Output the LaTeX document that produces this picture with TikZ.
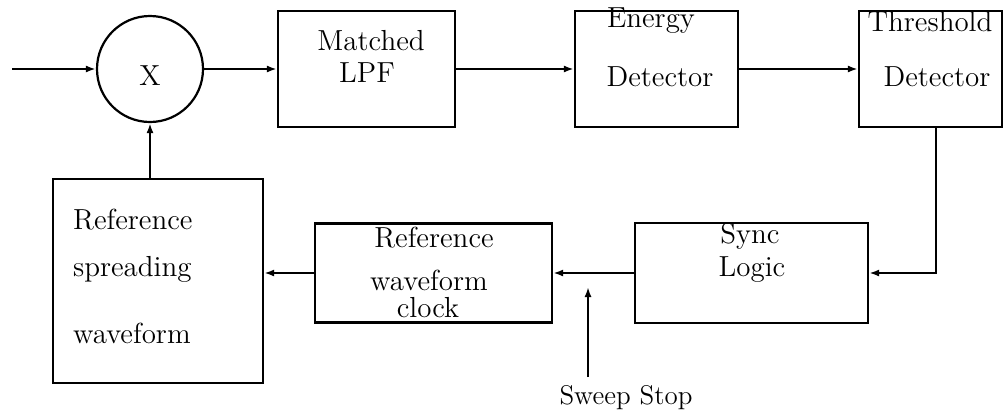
\documentclass[tikz,border=0pt]{standalone}
\usetikzlibrary{arrows.meta,calc}
\begin{document}
\begin{tikzpicture}[x=0.5pt,y=-0.5pt,
  line width=1.1pt,
  blk/.style={draw,rectangle,inner sep=0pt},
  lbl/.style={inner sep=0pt,font=\fontsize{14.5}{16}\selectfont},
  arr/.style={-{Latex[length=5pt,width=3.5pt]}}]
\useasboundingbox (0,0) rectangle (1005,413);
% blocks
\node[draw,circle,minimum size=106pt/2,inner sep=0pt] (mul) at (150,69) {};
\node[lbl] (xl) at (150,76) {X};
\node[blk,minimum width=177pt/2,minimum height=116pt/2] (lpf) at (366.5,69) {};
\node[blk,minimum width=163pt/2,minimum height=116pt/2] (en) at (656.5,69) {};
\node[blk,minimum width=143pt/2,minimum height=116pt/2] (th) at (930.5,69) {};
\node[blk,minimum width=233pt/2,minimum height=100pt/2] (sync) at (751.5,273) {};
\node[blk,minimum width=237pt/2,minimum height=99pt/2] (clk) at (433.5,273) {};
\node[blk,minimum width=210pt/2,minimum height=204pt/2] (spr) at (158,281) {};
% labels
\node[lbl] (l1) at (371,41) {Matched};
\node[lbl] (l2) at (367,73) {LPF};
\node[lbl] (l3) at (651,21) {Energy};
\node[lbl] (l4) at (660,77) {Detector};
\node[lbl] (l5) at (930,22) {Threshold};
\node[lbl] (l6) at (937,77) {Detector};
\node[lbl] (l7) at (750,236) {Sync};
\node[lbl] (l8) at (752,270) {Logic};
\node[lbl] (l9) at (434,238) {Reference};
\node[lbl] (l10) at (429,280) {waveform};
\node[lbl] (l11) at (428,308) {clock};
\node[lbl,anchor=west] (l12) at (72,220) {Reference};
\node[lbl,anchor=west] (l13) at (72,269) {spreading};
\node[lbl,anchor=west] (l14) at (72,333) {waveform};
\node[lbl,font=\fontsize{13.5}{16}\selectfont] (l15) at (626,398) {Sweep Stop};
% connectors
\coordinate (in) at (12,69);
\coordinate (tc) at (936,0);
\coordinate (sw) at (588,377);
\coordinate (swe) at (588,287);
\draw[arr] (in) -- (mul.west);
\draw[arr] (mul.east) -- (lpf.west);
\draw[arr] (lpf.east) -- (en.west);
\draw[arr] (en.east) -- (th.west);
\draw[arr] (th.south -| tc) |- (sync.east);
\draw[arr] (sync.west) -- (clk.east);
\draw[arr] (clk.west) -- (clk.west -| spr.east);
\draw[arr] (spr.north -| mul.south) -- (mul.south);
\draw[arr] (sw) -- (swe);
\end{tikzpicture}
\end{document}
